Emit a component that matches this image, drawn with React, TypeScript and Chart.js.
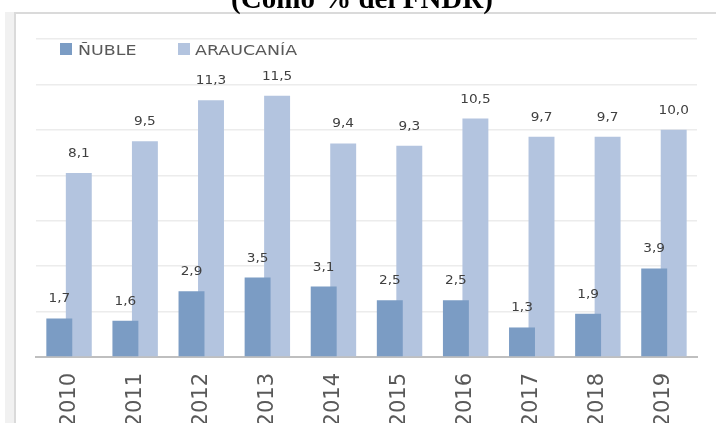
import React, { useEffect, useRef } from 'react';
import { Chart, registerables } from 'chart.js';

Chart.register(...registerables);

const years = ['2010', '2011', '2012', '2013', '2014', '2015', '2016', '2017', '2018', '2019'];
const nuble = [1.7, 1.6, 2.9, 3.5, 3.1, 2.5, 2.5, 1.3, 1.9, 3.9];
const araucania = [8.1, 9.5, 11.3, 11.5, 9.4, 9.3, 10.5, 9.7, 9.7, 10.0];
const seriesNames = ['ÑUBLE', 'ARAUCANÍA'];
const seriesColors = ['#7b9cc4', '#b3c4df'];
const yMin = 0;
const yMax = 14;
const yStep = 2;
const titleText = '(Como % del FNDR)';

const W = 716;
const H = 423;

function fmt(v: number) {
  return v.toFixed(1).replace('.', ',');
}

function drawScaledText(
  ctx: CanvasRenderingContext2D,
  text: string,
  x: number,
  y: number,
  sx: number,
  align: 'left' | 'center'
) {
  ctx.save();
  ctx.translate(x, y);
  ctx.scale(sx, 1);
  ctx.textAlign = align;
  ctx.textBaseline = 'alphabetic';
  ctx.fillText(text, 0, 0);
  ctx.restore();
}

const framePlugin = {
  id: 'framePlugin',
  beforeDraw(chart: any) {
    const ctx = chart.ctx as CanvasRenderingContext2D;
    ctx.save();
    ctx.fillStyle = '#ffffff';
    ctx.fillRect(0, 0, W, H);
    ctx.fillStyle = '#f1f1f1';
    ctx.fillRect(5, 12, 10, H - 12);
    ctx.fillStyle = '#dadada';
    ctx.fillRect(14, 12, 2, H - 12);
    ctx.fillRect(14, 12, W - 14, 2);
    ctx.restore();
  },
  afterDraw(chart: any) {
    const ctx = chart.ctx as CanvasRenderingContext2D;
    ctx.save();
    // title (cut at top)
    ctx.fillStyle = '#000000';
    ctx.font = 'bold 29px "Liberation Serif", "DejaVu Serif", serif';
    ctx.textAlign = 'center';
    ctx.textBaseline = 'alphabetic';
    ctx.fillText(titleText, 362, 8);
    // legend
    const markers = [60, 178];
    const textX = [78, 195];
    ctx.font = '14.5px "DejaVu Sans", sans-serif';
    for (let i = 0; i < seriesNames.length; i++) {
      ctx.fillStyle = seriesColors[i];
      ctx.fillRect(markers[i], 43, 12, 12);
      ctx.fillStyle = '#595959';
      drawScaledText(ctx, seriesNames[i], textX[i], 55, 1.2, 'left');
    }
    ctx.restore();
  },
};

const labelPlugin = {
  id: 'labelPlugin',
  afterDatasetsDraw(chart: any) {
    const ctx = chart.ctx as CanvasRenderingContext2D;
    ctx.save();
    ctx.fillStyle = '#404040';
    ctx.font = '13px "DejaVu Sans", sans-serif';
    chart.data.datasets.forEach((ds: any, di: number) => {
      const meta = chart.getDatasetMeta(di);
      meta.data.forEach((el: any, i: number) => {
        drawScaledText(ctx, fmt(ds.data[i]), el.x, el.y - 16, 1.05, 'center');
      });
    });
    ctx.restore();
  },
};

export default function App() {
  const ref = useRef<HTMLCanvasElement | null>(null);

  useEffect(() => {
    if (!ref.current) return;
    const chart = new Chart(ref.current, {
      type: 'bar',
      data: {
        labels: years,
        datasets: [
          {
            label: seriesNames[0],
            data: nuble,
            backgroundColor: seriesColors[0],
            borderWidth: 0,
            categoryPercentage: 0.59,
            barPercentage: 1.33,
          },
          {
            label: seriesNames[1],
            data: araucania,
            backgroundColor: seriesColors[1],
            borderWidth: 0,
            categoryPercentage: 0.59,
            barPercentage: 1.33,
          },
        ],
      },
      options: {
        responsive: false,
        animation: false,
        devicePixelRatio: 1,
        layout: { padding: { left: 36, right: 19, top: 39, bottom: 0 } },
        plugins: {
          legend: { display: false },
          title: { display: false },
          tooltip: { enabled: false },
        },
        scales: {
          x: {
            grid: { display: false, drawTicks: false },
            border: { display: true, color: '#bfbfbf', width: 2 },
            ticks: {
              minRotation: 90,
              maxRotation: 90,
              padding: 16,
              color: '#595959',
              font: { family: '"DejaVu Sans", sans-serif', size: 21 },
            },
            afterFit: (scale: any) => {
              scale.height = 66;
            },
          },
          y: {
            min: yMin,
            max: yMax,
            ticks: { display: false, stepSize: yStep },
            grid: { color: '#ececec', lineWidth: 1.5, drawTicks: false },
            border: { display: false },
            afterFit: (scale: any) => {
              scale.width = 0;
            },
          },
        },
      },
      plugins: [framePlugin, labelPlugin],
    });
    return () => chart.destroy();
  }, []);

  return (
    <div style={{ position: 'fixed', left: 0, top: 0, width: W, height: H, background: '#fff' }}>
      <canvas ref={ref} width={W} height={H} style={{ display: 'block', width: W, height: H }} />
    </div>
  );
}
